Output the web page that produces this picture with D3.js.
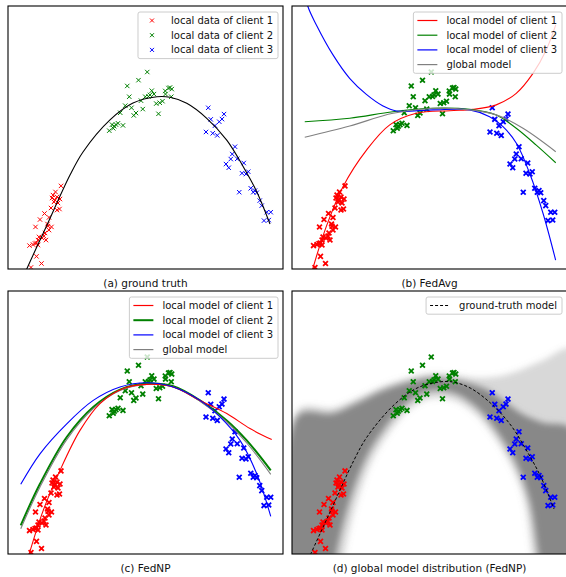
<!DOCTYPE html>
<html lang="en">
<head>
<meta charset="UTF-8">
<title>FedNP toy regression</title>
<script src="https://d3js.org/d3.v7.min.js"></script>
<style>
  body { margin: 0; padding: 0; background: #fff; }
  svg { display: block; font-family: "DejaVu Sans", sans-serif; }
  .caption { font-size: 10.5px; fill: #111; }
  .legend text { font-size: 10px; fill: #111; }
</style>
</head>
<body>
<svg id="chart" width="566" height="577"></svg>
<script>
const width = 566, height = 577;

// axis ranges shared by all four panels
const xDomain = [-1.1, 1.1];
const yDomain = [0, 10];

// local data of each client (x, y)
const client1 = [
  [-0.676, 3.16], [-0.720, 2.93], [-0.740, 2.81], [-0.748, 2.70], [-0.708, 2.74], [-0.684, 2.66],
  [-0.724, 2.62], [-0.732, 2.55], [-0.700, 2.51], [-0.756, 2.32], [-0.708, 2.24], [-0.688, 2.28],
  [-0.808, 2.11], [-0.772, 1.96], [-0.844, 1.88], [-0.784, 1.71], [-0.752, 1.60], [-0.880, 1.60],
  [-0.772, 1.48], [-0.812, 1.25], [-0.828, 1.18], [-0.796, 1.10], [-0.860, 1.10], [-0.872, 0.99],
  [-0.860, 0.91], [-0.928, 0.89], [-0.900, 0.93], [-0.884, 0.97], [-0.804, 1.37], [-0.852, 1.22],
  [-0.872, 0.48], [-0.832, 0.21], [-0.916, 0.06], [-0.780, 1.63]
];
const client2 = [
  [0.014, 7.49], [-0.056, 7.18], [-0.146, 6.96], [0.050, 6.78], [0.068, 6.65], [0.158, 6.77],
  [0.184, 6.88], [0.196, 6.90], [0.210, 6.84], [0.206, 6.55], [-0.130, 6.55], [-0.002, 6.55],
  [0.024, 6.56], [-0.036, 6.40], [0.086, 6.29], [0.114, 6.32], [0.136, 6.38], [-0.162, 6.21],
  [-0.112, 6.13], [-0.022, 6.08], [-0.076, 5.93], [-0.094, 5.84], [-0.202, 5.94], [0.104, 5.90],
  [-0.220, 5.54], [-0.268, 5.49], [-0.250, 5.43], [-0.236, 5.49], [-0.180, 5.46], [-0.290, 5.26],
  [-0.258, 5.35], [0.160, 6.65], [0.036, 6.62]
];
const client3 = [
  [0.502, 6.13], [0.522, 5.69], [0.628, 5.89], [0.612, 5.70], [0.590, 5.60], [0.556, 5.45],
  [0.484, 5.21], [0.538, 5.16], [0.574, 5.08], [0.716, 4.65], [0.694, 4.37], [0.734, 4.19],
  [0.682, 4.18], [0.644, 3.99], [0.666, 3.85], [0.786, 4.03], [0.822, 3.70], [0.772, 3.64],
  [0.804, 3.61], [0.750, 2.92], [0.842, 3.07], [0.862, 2.92], [0.890, 2.90], [0.876, 2.98],
  [0.914, 2.60], [0.930, 2.41], [0.970, 2.16], [1.002, 2.16], [0.948, 1.84], [0.986, 1.86]
];

// ground-truth function
const groundTruth = [
  [-1.0, -0.55], [-0.95, 0], [-0.80, 1.55], [-0.604, 3.57], [-0.50, 4.45], [-0.284, 5.67],
  [-0.10, 6.31], [0.092, 6.55], [0.196, 6.53], [0.33, 6.30], [0.49, 5.73], [0.65, 4.90],
  [0.782, 3.89], [0.89, 2.94], [0.996, 1.71]
];

// FedAvg models
const avgLocal1 = [
  [-1.0, -1.3], [-0.932, 0.03], [-0.826, 1.61], [-0.692, 3.13], [-0.504, 4.52], [-0.318, 5.48],
  [-0.106, 5.92], [0.162, 6.02], [0.348, 6.07], [0.534, 6.24], [0.694, 6.68], [0.828, 7.44],
  [0.934, 8.33], [1.01, 9.28]
];
const avgLocal2 = [
  [-0.998, 5.60], [-0.638, 5.73], [-0.292, 5.98], [0.028, 6.11], [0.322, 6.07], [0.534, 5.86],
  [0.694, 5.35], [0.854, 4.71], [1.01, 4.04]
];
const avgLocal3 = [
  [-1.0, 10.6], [-0.972, 9.97], [-0.905, 9.28], [-0.772, 8.14], [-0.639, 7.25], [-0.505, 6.64],
  [-0.372, 6.20], [-0.265, 6.01], [0.028, 6.05], [0.321, 6.05], [0.481, 5.79], [0.588, 5.41],
  [0.695, 4.78], [0.801, 3.64], [0.908, 2.12], [1.009, 0.34]
];
const avgGlobal = [
  [-0.998, 5.01], [-0.638, 5.44], [-0.292, 5.92], [0.028, 6.11], [0.322, 6.05], [0.534, 5.86],
  [0.748, 5.35], [1.01, 4.46]
];

// FedNP models
const npLocal1 = [
  [-1.0, -1.2], [-0.930, 0.01], [-0.818, 1.66], [-0.684, 3.18], [-0.524, 4.70], [-0.364, 5.72],
  [-0.178, 6.29], [0.010, 6.45], [0.222, 6.35], [0.436, 5.84], [0.650, 5.34], [0.836, 4.77],
  [1.010, 4.35]
];
const npLocal2 = [
  [-0.998, 1.09], [-0.844, 2.67], [-0.630, 4.45], [-0.418, 5.59], [-0.204, 6.25], [0.010, 6.48],
  [0.222, 6.38], [0.436, 5.84], [0.650, 5.08], [0.810, 4.32], [1.002, 3.18]
];
const npLocal3 = [
  [-0.998, 2.65], [-0.844, 3.81], [-0.630, 4.95], [-0.418, 5.84], [-0.204, 6.35], [0.010, 6.51],
  [0.222, 6.35], [0.436, 5.84], [0.596, 5.21], [0.756, 4.32], [0.890, 3.05], [1.002, 1.43]
];
const npGlobal = [
  [-0.998, 0.96], [-0.844, 2.55], [-0.630, 4.35], [-0.418, 5.53], [-0.204, 6.22], [0.010, 6.45],
  [0.222, 6.35], [0.436, 5.81], [0.650, 5.02], [0.810, 4.22], [1.002, 3.03]
];

// FedNP global model distribution: top edge and inner (under the arch) edge of the band
const bandCoreTop = [
  [-1.05, 5.27], [-0.772, 5.34], [-0.586, 5.72], [-0.372, 6.22], [-0.158, 6.54], [0.028, 6.70],
  [0.214, 6.60], [0.374, 6.41], [0.48, 6.2], [0.60, 5.8], [0.75, 5.3], [0.90, 5.0], [1.15, 4.7]
];
const bandCoreInner = [
  [-0.78, -1], [-0.746, 0], [-0.638, 2.04], [-0.504, 3.69], [-0.372, 4.70], [-0.186, 5.72],
  [0.002, 6.20], [0.194, 6.12], [0.374, 5.59], [0.534, 4.70], [0.694, 3.43], [0.80, 2.04],
  [0.87, 0], [0.90, -1]
];
const bandOuterTop = [
  [-1.05, 5.5], [-0.772, 5.55], [-0.586, 5.9], [-0.372, 6.38], [-0.158, 6.7], [0.028, 6.86],
  [0.214, 6.8], [0.374, 6.7], [0.55, 6.75], [0.70, 6.95], [0.90, 7.35], [1.15, 7.8]
];
const bandOuterInner = [
  [-0.70, -1], [-0.68, 0], [-0.58, 2.0], [-0.46, 3.55], [-0.34, 4.5], [-0.17, 5.45],
  [0.002, 5.9], [0.19, 5.85], [0.36, 5.35], [0.51, 4.5], [0.66, 3.3], [0.76, 2.0],
  [0.82, 0], [0.85, -1]
];

const RED = "#ff0000", GREEN = "#008000", BLUE = "#0000ff", GRAY = "#808080";

const panels = [
  { id: "a", x: 8,   y: 6,   w: 275, h: 263, caption: "(a) ground truth" },
  { id: "b", x: 292, y: 6,   w: 275, h: 263, caption: "(b) FedAvg" },
  { id: "c", x: 8,   y: 291, w: 275, h: 263, caption: "(c) FedNP" },
  { id: "d", x: 292, y: 291, w: 275, h: 263, caption: "(d) global model distribution (FedNP)" }
];

const svg = d3.select("#chart");
const defs = svg.append("defs");

defs.append("filter")
  .attr("id", "soft")
  .attr("x", "-20%").attr("y", "-20%")
  .attr("width", "140%").attr("height", "140%")
  .append("feGaussianBlur")
  .attr("stdDeviation", 3);

panels.forEach(p => {
  p.xs = d3.scaleLinear().domain(xDomain).range([p.x, p.x + p.w]);
  p.ys = d3.scaleLinear().domain(yDomain).range([p.y + p.h, p.y]);
  defs.append("clipPath").attr("id", "clip-" + p.id)
    .append("rect")
    .attr("x", p.x).attr("y", p.y).attr("width", p.w).attr("height", p.h);
  p.g = svg.append("g").attr("clip-path", `url(#clip-${p.id})`);
});

function drawLine(p, data, color, w, dash) {
  const line = d3.line()
    .x(d => p.xs(d[0]))
    .y(d => p.ys(d[1]))
    .curve(d3.curveCatmullRom.alpha(0.5));
  p.g.append("path")
    .datum(data)
    .attr("d", line)
    .attr("fill", "none")
    .attr("stroke", color)
    .attr("stroke-width", w)
    .attr("stroke-dasharray", dash || null);
}

function drawPoints(p, data, color, size, w) {
  p.g.append("g")
    .selectAll("path")
    .data(data)
    .join("path")
    .attr("transform", d => `translate(${p.xs(d[0])},${p.ys(d[1])})`)
    .attr("d", `M${-size},${-size}L${size},${size}M${-size},${size}L${size},${-size}`)
    .attr("stroke", color)
    .attr("stroke-width", w)
    .attr("fill", "none");
}

function drawBand(p, top, inner, opacity) {
  const x0 = top[0][0], x1 = top[top.length - 1][0];
  const poly = [[x0, -1.5], ...top, [x1, -1.5], ...inner.slice().reverse()];
  const line = d3.line()
    .x(d => p.xs(d[0]))
    .y(d => p.ys(d[1]))
    .curve(d3.curveCatmullRomClosed.alpha(0.5));
  p.g.append("path")
    .datum(poly)
    .attr("d", line)
    .attr("fill", "#7f7f7f")
    .attr("fill-opacity", opacity)
    .attr("filter", "url(#soft)");
}

function drawLegend(p, items) {
  const g = svg.append("g").attr("class", "legend");
  const rowH = 14.7;
  const boxTop = p.y + 6;
  const box = g.append("rect");
  const texts = items.map((it, i) =>
    g.append("text")
      .attr("y", boxTop + 8.5 + i * rowH)
      .attr("dy", "0.35em")
      .text(it.label));
  const maxW = d3.max(texts, t => t.node().getComputedTextLength());
  const boxRight = p.x + p.w - 5;
  const textX = boxRight - 5 - maxW;
  texts.forEach(t => t.attr("x", textX));
  box.attr("x", textX - 33).attr("y", boxTop)
    .attr("width", boxRight - (textX - 33))
    .attr("height", items.length * rowH + 2.5)
    .attr("rx", 2)
    .attr("fill", "#fff").attr("fill-opacity", 0.8)
    .attr("stroke", "#cccccc").attr("stroke-width", 1);
  items.forEach((it, i) => {
    const cy = boxTop + 8.5 + i * rowH;
    if (it.type === "marker") {
      const cx = textX - 19, s = 2;
      g.append("path")
        .attr("d", `M${cx - s},${cy - s}L${cx + s},${cy + s}M${cx - s},${cy + s}L${cx + s},${cy - s}`)
        .attr("stroke", it.color).attr("stroke-width", 1);
    } else {
      g.append("line")
        .attr("x1", textX - 29).attr("x2", textX - 9)
        .attr("y1", cy).attr("y2", cy)
        .attr("stroke", it.color).attr("stroke-width", it.width)
        .attr("stroke-dasharray", it.dash || null);
    }
  });
}

// (a) ground truth
const pa = panels[0];
drawPoints(pa, client1, RED, 2.2, 1);
drawPoints(pa, client2, GREEN, 2.2, 1);
drawPoints(pa, client3, BLUE, 2.2, 1);
drawLine(pa, groundTruth, "#000", 1.1);

// (b) FedAvg
const pb = panels[1];
drawPoints(pb, client1, RED, 2.4, 1.8);
drawPoints(pb, client2, GREEN, 2.4, 1.8);
drawPoints(pb, client3, BLUE, 2.4, 1.8);
drawLine(pb, avgLocal1, RED, 1.1);
drawLine(pb, avgLocal2, GREEN, 1.1);
drawLine(pb, avgLocal3, BLUE, 1.1);
drawLine(pb, avgGlobal, GRAY, 1.1);

// (c) FedNP
const pc = panels[2];
drawPoints(pc, client1, RED, 2.4, 1.8);
drawPoints(pc, client2, GREEN, 2.4, 1.8);
drawPoints(pc, client3, BLUE, 2.4, 1.8);
drawLine(pc, npLocal2, GREEN, 2);
drawLine(pc, npGlobal, GRAY, 1.1);
drawLine(pc, npLocal1, RED, 1.1);
drawLine(pc, npLocal3, BLUE, 1.1);

// (d) distribution of the FedNP global model
const pd = panels[3];
drawBand(pd, bandOuterTop, bandOuterInner, 0.3);
drawBand(pd, bandCoreTop, bandCoreInner, 0.9);
drawPoints(pd, client1, RED, 2.4, 1.8);
drawPoints(pd, client2, GREEN, 2.4, 1.8);
drawPoints(pd, client3, BLUE, 2.4, 1.8);
drawLine(pd, groundTruth, "#000", 1, "3,2");

// frames and captions
panels.forEach(p => {
  svg.append("rect")
    .attr("x", p.x).attr("y", p.y).attr("width", p.w).attr("height", p.h)
    .attr("fill", "none").attr("stroke", "#000").attr("stroke-width", 1.1);
  svg.append("text")
    .attr("class", "caption")
    .attr("x", p.x + p.w / 2)
    .attr("y", p.y + p.h + 18)
    .attr("text-anchor", "middle")
    .text(p.caption);
});

const modelItems = [
  { label: "local model of client 1", color: RED, width: 1.2 },
  { label: "local model of client 2", color: GREEN, width: 1.2 },
  { label: "local model of client 3", color: BLUE, width: 1.2 },
  { label: "global model", color: GRAY, width: 1.2 }
];

drawLegend(pa, [
  { label: "local data of client 1", color: RED, type: "marker" },
  { label: "local data of client 2", color: GREEN, type: "marker" },
  { label: "local data of client 3", color: BLUE, type: "marker" }
]);
drawLegend(pb, modelItems);
drawLegend(pc, modelItems.map((d, i) => i === 1 ? { ...d, width: 2 } : d));
drawLegend(pd, [{ label: "ground-truth model", color: "#000", width: 1, dash: "3,2" }]);
</script>
</body>
</html>
